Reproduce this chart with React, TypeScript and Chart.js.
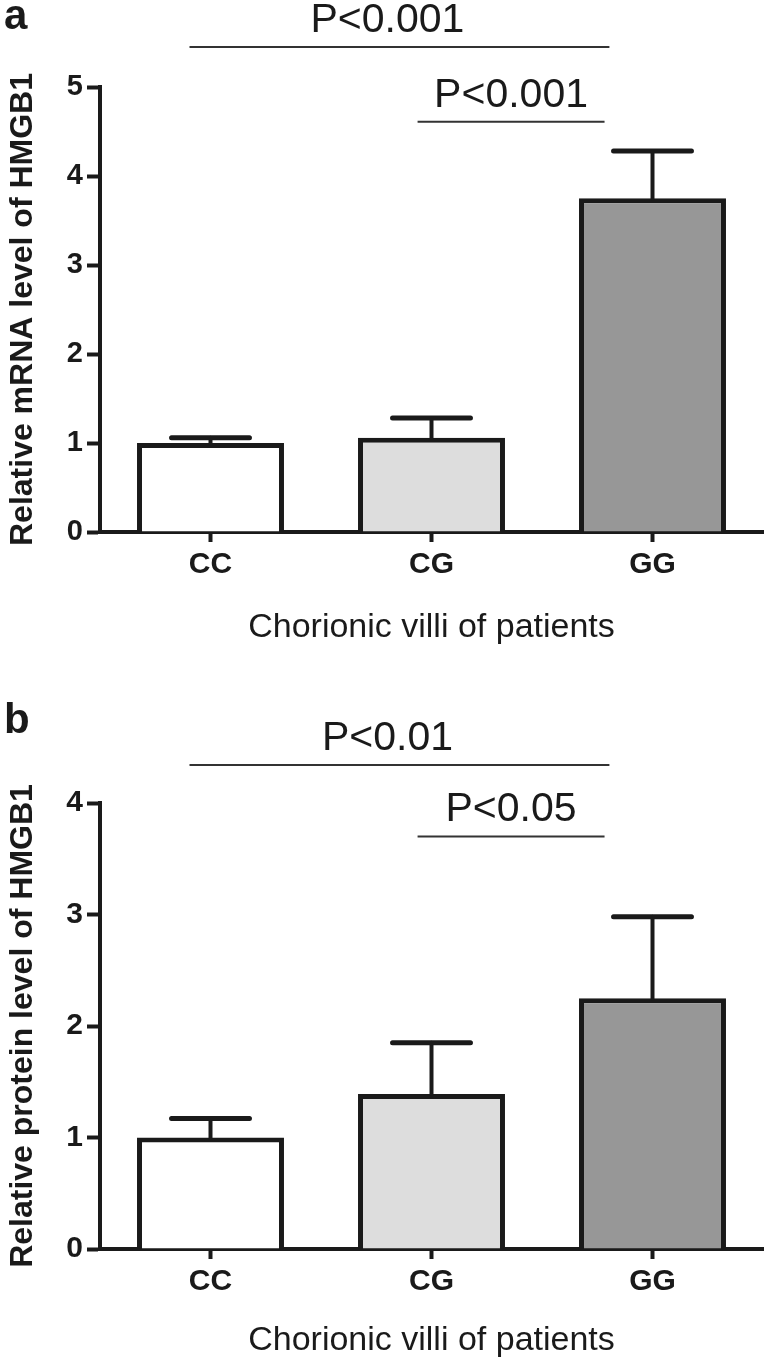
import React, { useEffect, useRef } from "react";
import { Chart, registerables } from "chart.js";

Chart.register(...registerables);

// ---- data ----
const categories = ["CC", "CG", "GG"];
const mrnaMean = [1.0, 1.06, 3.75];
const mrnaSD = [0.06, 0.22, 0.53];
const proteinMean = [1.0, 1.39, 2.25];
const proteinSD = [0.17, 0.46, 0.73];
const mrnaMax = 5;
const proteinMax = 4;
const mrnaPLabels = ["P<0.001", "P<0.001"];
const proteinPLabels = ["P<0.01", "P<0.05"];
const xTitle = "Chorionic villi of patients";
const mrnaYTitle = "Relative mRNA level of HMGB1";
const proteinYTitle = "Relative protein level of HMGB1";

// ---- styles ----
const ink = "#1a1a1a";
const barFills = ["#ffffff", "#dddddd", "#979797"];
const family = "'Liberation Sans', Arial, Helvetica, sans-serif";

type Bracket = { from: number; to: number; level: number; label: string; shift: number };

const errorBarPlugin = {
  id: "errorBars",
  afterDatasetsDraw(chart: any) {
    const ds: any = chart.data.datasets[0];
    const meta = chart.getDatasetMeta(0);
    const y = chart.scales.y;
    const ctx = chart.ctx;
    ctx.save();
    ctx.strokeStyle = ink;
    ctx.lineCap = "round";
    meta.data.forEach((bar: any, i: number) => {
      const mean = ds.data[i];
      const sd = ds.sd[i];
      const x = bar.x;
      const yTop = y.getPixelForValue(mean);
      const yErr = y.getPixelForValue(mean + sd);
      const half = bar.width * 0.265;
      ctx.lineWidth = 4;
      ctx.beginPath();
      ctx.moveTo(x, yTop);
      ctx.lineTo(x, yErr);
      ctx.stroke();
      ctx.lineWidth = 5;
      ctx.beginPath();
      ctx.moveTo(x - half, yErr);
      ctx.lineTo(x + half, yErr);
      ctx.stroke();
    });
    ctx.restore();
  },
};

const annotationPlugin = {
  id: "sigAnnotations",
  afterDraw(chart: any) {
    const cfg: any = (chart.config as any)._sig;
    if (!cfg) return;
    const ctx = chart.ctx;
    const x = chart.scales.x;
    const y = chart.scales.y;
    ctx.save();
    (cfg.brackets as Bracket[]).forEach((b) => {
      const x1 = x.getPixelForValue(b.from);
      const x2 = x.getPixelForValue(b.to);
      const yy = y.getPixelForValue(b.level);
      ctx.strokeStyle = "#333333";
      ctx.lineWidth = 2;
      ctx.beginPath();
      ctx.moveTo(x1, yy);
      ctx.lineTo(x2, yy);
      ctx.stroke();
      ctx.fillStyle = ink;
      ctx.font = `normal 41px ${family}`;
      ctx.textAlign = "center";
      ctx.textBaseline = "alphabetic";
      ctx.fillText(b.label, (x1 + x2) / 2 + b.shift, yy - 15);
    });
    ctx.fillStyle = ink;
    ctx.font = `bold 42px ${family}`;
    ctx.textAlign = "left";
    ctx.textBaseline = "alphabetic";
    ctx.fillText(cfg.letter, cfg.letterX, cfg.letterY);
    ctx.restore();
  },
};

type PanelProps = {
  height: number;
  padTop: number;
  xAxisHeight: number;
  xTitlePad: number;
  means: number[];
  sds: number[];
  max: number;
  yTitle: string;
  tickSize: number;
  letter: string;
  letterY: number;
  brackets: Bracket[];
};

function Panel(p: PanelProps) {
  const ref = useRef<HTMLCanvasElement | null>(null);
  useEffect(() => {
    if (!ref.current) return;
    const config: any = {
      type: "bar",
      data: {
        labels: categories,
        datasets: [
          {
            data: p.means,
            sd: p.sds,
            backgroundColor: barFills,
            borderColor: ink,
            borderWidth: 5,
            categoryPercentage: 1,
            barPercentage: 0.665,
          },
        ],
      },
      options: {
        animation: false,
        responsive: false,
        devicePixelRatio: 1,
        layout: { padding: { top: p.padTop, right: 4, left: 0, bottom: 0 } },
        plugins: { legend: { display: false }, tooltip: { enabled: false } },
        scales: {
          x: {
            offset: true,
            grid: {
              display: true,
              offset: false,
              drawOnChartArea: false,
              drawTicks: true,
              tickLength: 10,
              tickWidth: 4,
              tickColor: ink,
            },
            border: { display: true, color: ink, width: 4 },
            ticks: {
              color: ink,
              font: { family, size: 30, weight: "bold" },
              padding: 5,
              maxRotation: 0,
            },
            title: {
              display: true,
              text: xTitle,
              color: ink,
              font: { family, size: 34, weight: "normal" },
              padding: { top: 0, bottom: p.xTitlePad },
            },
            afterFit: (s: any) => {
              s.height = p.xAxisHeight;
            },
          },
          y: {
            min: 0,
            max: p.max,
            ticks: {
              stepSize: 1,
              color: ink,
              font: { family, size: p.tickSize, weight: "bold" },
              padding: 4,
            },
            grid: {
              drawOnChartArea: false,
              tickLength: 13,
              tickWidth: 4,
              tickColor: ink,
            },
            border: { color: ink, width: 4 },
            title: {
              display: true,
              text: p.yTitle,
              color: ink,
              font: { family, size: 32, weight: "bold" },
              padding: { top: 4, bottom: 0 },
            },
            afterFit: (s: any) => {
              s.width = 100;
            },
          },
        },
      },
      plugins: [errorBarPlugin, annotationPlugin],
    };
    const chart = new Chart(ref.current, config);
    (chart.config as any)._sig = {
      brackets: p.brackets,
      letter: p.letter,
      letterX: 4,
      letterY: p.letterY,
    };
    chart.draw();
    return () => chart.destroy();
  }, []);
  return (
    <canvas
      ref={ref}
      width={767}
      height={p.height}
      style={{ display: "block", width: 767, height: p.height }}
    />
  );
}

export default function App() {
  useEffect(() => {
    document.body.style.margin = "0";
    document.body.style.background = "#ffffff";
  }, []);
  const mrnaBrackets: Bracket[] = [
    { from: -0.095, to: 1.805, level: 5.45, label: mrnaPLabels[0], shift: -12 },
    { from: 0.937, to: 1.783, level: 4.61, label: mrnaPLabels[1], shift: 0 },
  ];
  const proteinBrackets: Bracket[] = [
    { from: -0.095, to: 1.805, level: 4.34, label: proteinPLabels[0], shift: -12 },
    { from: 0.937, to: 1.783, level: 3.7, label: proteinPLabels[1], shift: 0 },
  ];
  return (
    <div style={{ width: 767, background: "#fff" }}>
      <Panel
        height={680}
        padTop={87}
        xAxisHeight={148}
        xTitlePad={32}
        means={mrnaMean}
        sds={mrnaSD}
        max={mrnaMax}
        yTitle={mrnaYTitle}
        tickSize={29}
        letter="a"
        letterY={29}
        brackets={mrnaBrackets}
      />
      <Panel
        height={686}
        padTop={123}
        xAxisHeight={117}
        xTitlePad={5}
        means={proteinMean}
        sds={proteinSD}
        max={proteinMax}
        yTitle={proteinYTitle}
        tickSize={30}
        letter="b"
        letterY={53}
        brackets={proteinBrackets}
      />
    </div>
  );
}
